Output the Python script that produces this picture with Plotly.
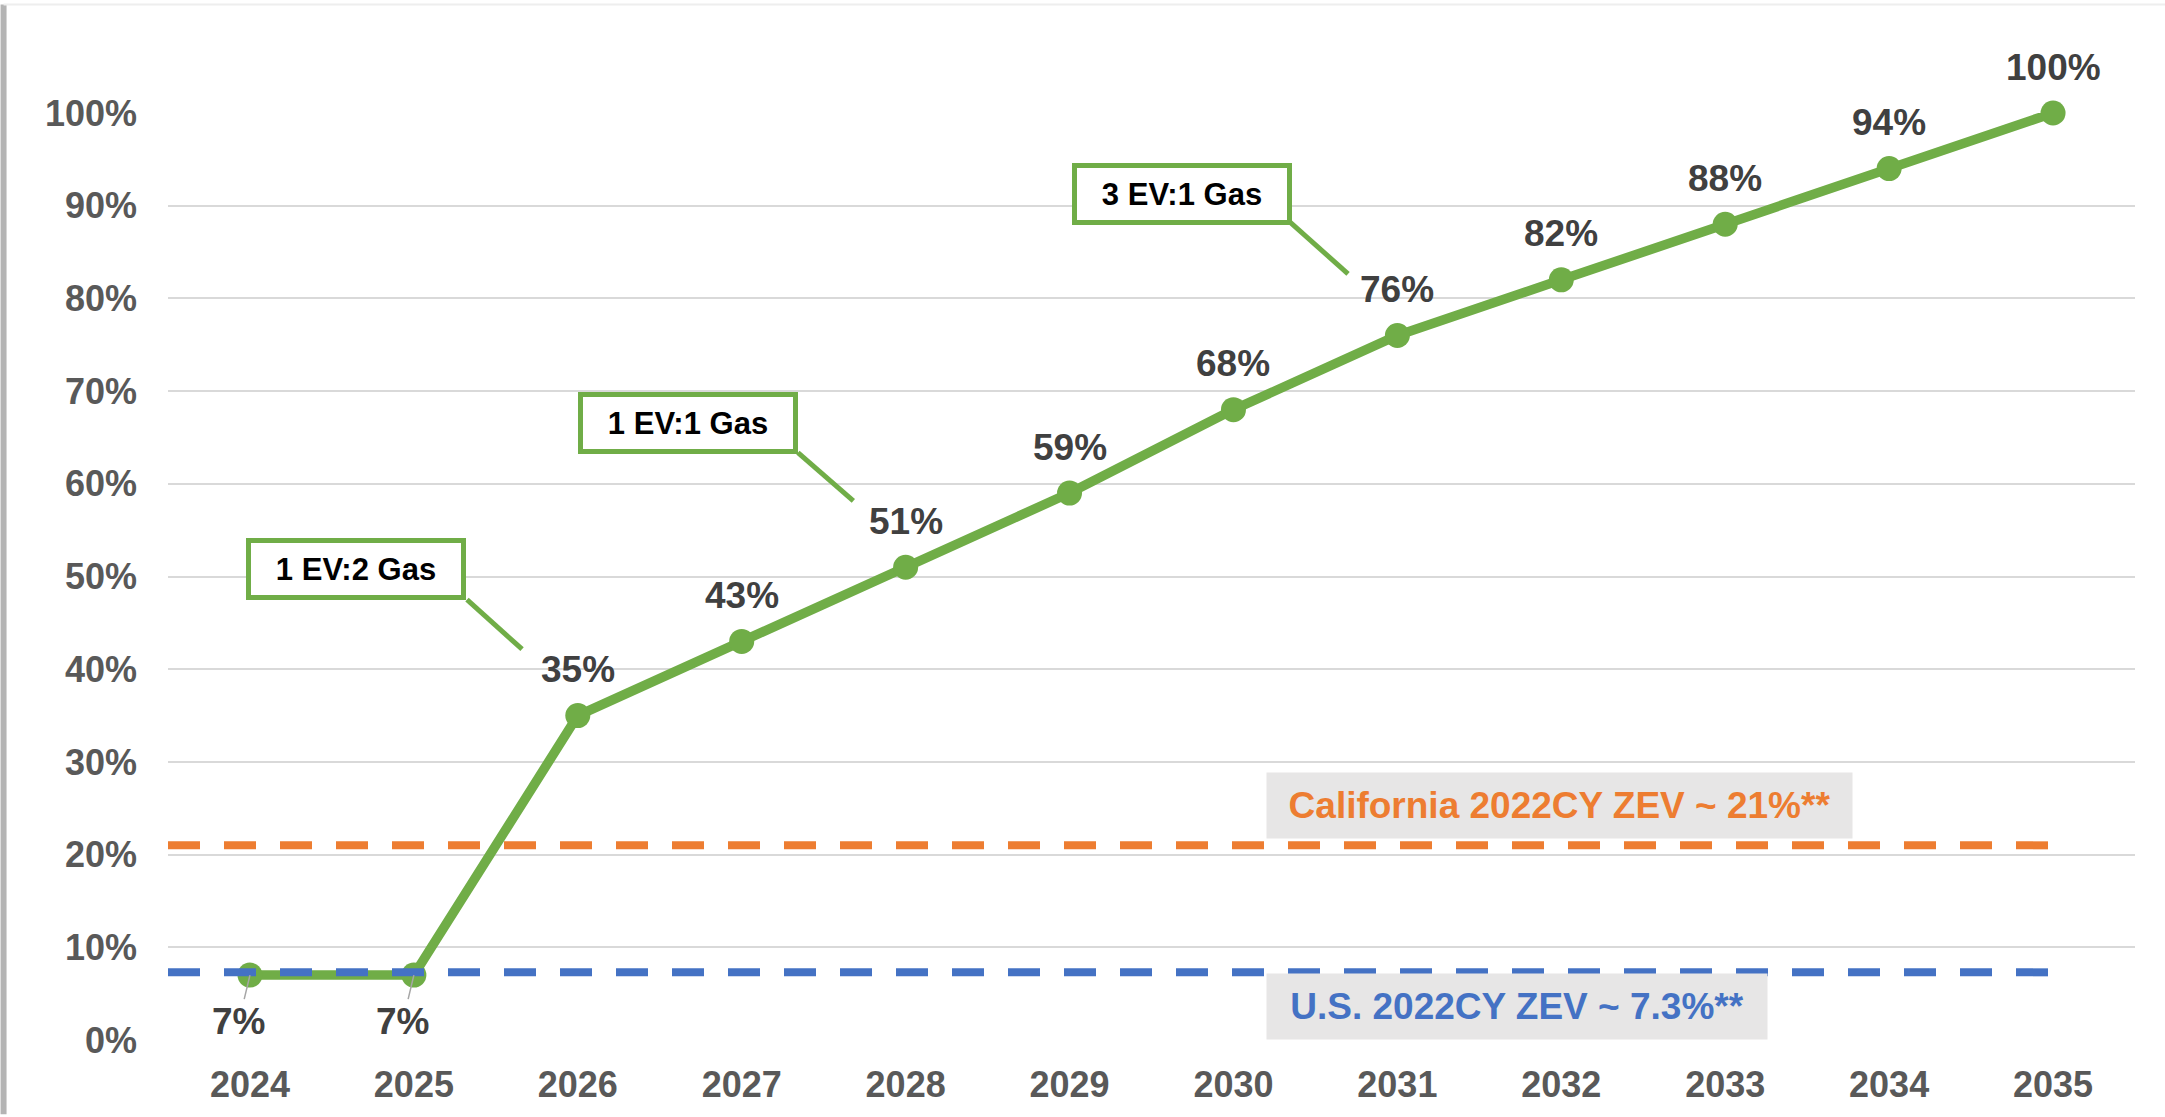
import plotly.graph_objects as go

# ---- data ----
years = ["2024", "2025", "2026", "2027", "2028", "2029", "2030", "2031", "2032", "2033", "2034", "2035"]
zev_share = [0.07, 0.07, 0.35, 0.43, 0.51, 0.59, 0.68, 0.76, 0.82, 0.88, 0.94, 1.00]
share_labels = ["7%", "7%", "35%", "43%", "51%", "59%", "68%", "76%", "82%", "88%", "94%", "100%"]
california_2022 = 0.21
us_2022 = 0.073
california_label = "California 2022CY ZEV ~ 21%**"
us_label = "U.S. 2022CY ZEV ~ 7.3%**"
ratio_labels = ["1 EV:2 Gas", "1 EV:1 Gas", "3 EV:1 Gas"]
y_ticks = [0, 0.1, 0.2, 0.3, 0.4, 0.5, 0.6, 0.7, 0.8, 0.9, 1.0]

GREEN = "#70AD47"
ORANGE = "#ED7D31"
BLUE = "#4472C4"
FONT = "Liberation Sans, Arial, sans-serif"

xi = list(range(len(years)))

fig = go.Figure()

fig.add_trace(go.Scatter(
    x=xi, y=zev_share, mode="lines+markers",
    line=dict(color=GREEN, width=9.5),
    marker=dict(color=GREEN, size=25),
    cliponaxis=False, showlegend=False, hoverinfo="skip"))

fig.add_trace(go.Scatter(
    x=[-0.5, xi[-1]], y=[california_2022, california_2022], mode="lines",
    line=dict(color=ORANGE, width=8, dash="32px,24px"),
    showlegend=False, hoverinfo="skip"))
fig.add_trace(go.Scatter(
    x=[-0.5, xi[-1]], y=[us_2022, us_2022], mode="lines",
    line=dict(color=BLUE, width=8, dash="32px,24px"),
    showlegend=False, hoverinfo="skip"))

label_font = dict(family=FONT, size=37, color="#404040", weight="bold")
annotations = []
for i, (v, t) in enumerate(zip(zev_share, share_labels)):
    if i < 2:
        annotations.append(dict(
            x=i, y=v, xref="x", yref="y", text=t, showarrow=True,
            arrowhead=0, arrowwidth=1.5, arrowcolor="#A6A6A6",
            ax=-11, ay=46, font=label_font))
    else:
        annotations.append(dict(
            x=i, y=v, xref="x", yref="y", text=t, showarrow=False,
            yshift=46, font=label_font))

# ratio callouts
callout_pos = [(0.647, 0.508), (2.672, 0.666), (5.689, 0.9127)]
for (cx, cy), t in zip(callout_pos, ratio_labels):
    annotations.append(dict(
        x=cx, y=cy, xref="x", yref="y", text=t, showarrow=False,
        bgcolor="white", bordercolor=GREEN, borderwidth=5, borderpad=0,
        width=210, height=52, align="center", valign="middle",
        font=dict(family=FONT, size=31, color="#000000", weight="bold")))

# reference notes
annotations.append(dict(
    x=7.99, y=0.2529, xref="x", yref="y", text=california_label,
    showarrow=False, bgcolor="#E7E6E6", borderpad=0, width=585, height=65,
    font=dict(family=FONT, size=37, color=ORANGE, weight="bold")))
annotations.append(dict(
    x=7.73, y=0.0365, xref="x", yref="y", text=us_label,
    showarrow=False, bgcolor="#E7E6E6", borderpad=0, width=500, height=65,
    font=dict(family=FONT, size=37, color=BLUE, weight="bold")))

shapes = []
leaders = [((1.324, 0.4751), (1.660, 0.4216)),
           ((3.343, 0.6337), (3.681, 0.5815)),
           ((6.345, 0.8822), (6.699, 0.8265))]
for (x0, y0), (x1, y1) in leaders:
    shapes.append(dict(type="line", xref="x", yref="y", x0=x0, y0=y0, x1=x1, y1=y1,
                       line=dict(color=GREEN, width=5)))
# slide frame edges (left gray edge, faint top line)
shapes.append(dict(type="line", xref="paper", yref="paper",
                   x0=-0.0836, x1=-0.0836, y0=-0.08, y1=1.117,
                   line=dict(color="#B4B4B4", width=6)))
shapes.append(dict(type="line", xref="paper", yref="paper",
                   x0=-0.0836, x1=1.02, y0=1.117, y1=1.117,
                   line=dict(color="#EEEEEE", width=2)))

fig.update_layout(
    width=2165, height=1117,
    margin=dict(l=168, r=30, t=113, b=70),
    paper_bgcolor="white", plot_bgcolor="white",
    showlegend=False,
    annotations=annotations, shapes=shapes,
    xaxis=dict(range=[-0.5, len(years) - 0.5], tickvals=xi, ticktext=years,
               showgrid=False, zeroline=False, showline=False, ticks="",
               ticklabelstandoff=20,
               tickfont=dict(family=FONT, size=36, color="#595959", weight="bold")),
    yaxis=dict(range=[0, 1], tickvals=y_ticks, tickformat=".0%",
               showgrid=True, gridcolor="#D9D9D9", gridwidth=2,
               zeroline=False, showline=False, ticks="",
               ticklabelstandoff=30,
               tickfont=dict(family=FONT, size=36, color="#595959", weight="bold")),
)

# remove the page's default body margin so the figure fills the window exactly
fig.write_html(
    "out.html",
    config={"displayModeBar": False},
    post_script="document.body.style.margin='0';"
                "document.documentElement.style.overflow='hidden';"
                "document.body.style.overflow='hidden';")
